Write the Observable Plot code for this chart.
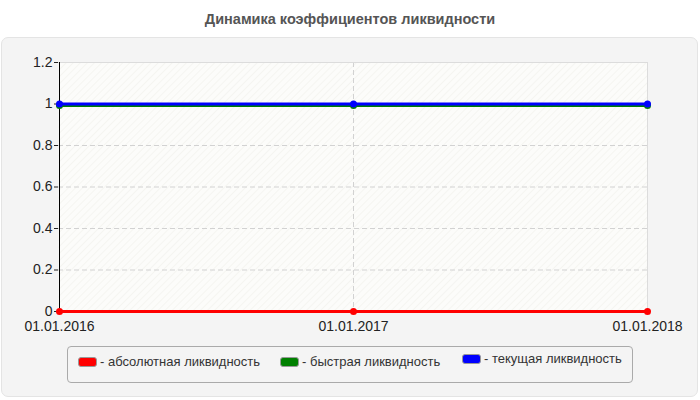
<!DOCTYPE html>
<html><head><meta charset="utf-8">
<script src="https://cdn.jsdelivr.net/npm/d3@7"></script>
<script src="https://cdn.jsdelivr.net/npm/@observablehq/plot@0.6"></script>
<style>
body{margin:0;width:700px;height:400px;position:relative;background:#fff;font-family:"Liberation Sans",Arial,sans-serif;overflow:hidden}
#title{position:absolute;top:11px;left:0;width:700px;text-align:center;font-weight:bold;font-size:14.5px;color:#555}
#panel{position:absolute;left:1px;top:37px;width:695px;height:358px;background:#f4f4f4;border:1px solid #e4e4e4;border-radius:7px}
#chart{position:absolute;left:0;top:0}
#legend{position:absolute;left:67px;top:346px;width:564px;height:35px;border:1px solid #aaa;border-radius:4px;background:#f4f4f4}
.item{position:absolute;font-size:13px;color:#333;white-space:nowrap;line-height:15px}
.sw{display:inline-block;width:17px;height:8px;border-radius:3px;border:1px solid #999;vertical-align:middle;margin-right:3px;position:relative;top:-1px}
</style></head>
<body>
<div id="title">Динамика коэффициентов ликвидности</div>
<div id="panel"></div>
<div id="chart"></div>
<div id="legend"></div>
<script>
const dates = ["01.01.2016", "01.01.2017", "01.01.2018"];
const absoluteLiquidity = [0, 0, 0];
const quickLiquidity = [0.993, 0.993, 0.993];
const currentLiquidity = [1, 1, 1];
const seriesNames = ["абсолютная ликвидность", "быстрая ликвидность", "текущая ликвидность"];
const seriesColors = ["#ff0000", "#008000", "#0000ff"];
const yTicks = [0, 0.2, 0.4, 0.6, 0.8, 1, 1.2];

const seriesValues = [absoluteLiquidity, quickLiquidity, currentLiquidity];
const data = [];
seriesValues.forEach((vals, s) => vals.forEach((v, i) => data.push({date: dates[i], value: v, series: seriesNames[s]})));

const colorScale = {domain: seriesNames, range: seriesColors};
const dashed = {stroke: "#d2d2d2", strokeOpacity: 1, strokeDasharray: "5,3"};

const chart = Plot.plot({
  width: 700,
  height: 340,
  marginTop: 62,
  marginBottom: 29,
  marginLeft: 58,
  marginRight: 53,
  style: {background: "transparent", fontFamily: "'Liberation Sans', Arial, sans-serif", fontSize: "14px", color: "#222"},
  x: {type: "point", domain: dates, padding: 0},
  y: {domain: [0, 1.2]},
  color: colorScale,
  marks: [
    Plot.frame({fill: "url(#hatch)", stroke: null}),
    Plot.gridY(yTicks.slice(1, -1), dashed),
    Plot.gridX(dates.slice(1, -1), dashed),
    Plot.ruleY([yTicks[yTicks.length - 1]], {stroke: "#dcdcdc"}),
    Plot.ruleX([dates[dates.length - 1]], {stroke: "#dcdcdc"}),
    Plot.ruleX([dates[0]], {stroke: "#000"}),
    Plot.axisY({ticks: yTicks, tickFormat: d => String(+d.toFixed(1)), tickSize: 4, tickPadding: 2, label: null, fill: "#222", fontSize: 14}),
    Plot.axisX({tickSize: 0, tickPadding: 10, label: null, fill: "#222", fontSize: 14}),
    Plot.line(data, {x: "date", y: "value", z: "series", stroke: "series", strokeWidth: 3}),
    Plot.dot(data, {x: "date", y: "value", fill: "series", r: 3.5})
  ]
});

const defs = d3.select(chart).insert("defs", ":first-child");
const pat = defs.append("pattern").attr("id", "hatch").attr("patternUnits", "userSpaceOnUse")
  .attr("width", 5).attr("height", 5).attr("patternTransform", "rotate(45)");
pat.append("rect").attr("width", 5).attr("height", 5).attr("fill", "#fcfcfa");
pat.append("line").attr("x1", 0).attr("y1", 0).attr("x2", 0).attr("y2", 5).attr("stroke", "#f3f3ee").attr("stroke-width", 1.5);
document.getElementById("chart").appendChild(chart);

const legendPos = [[10, 7], [212, 7], [394, 4]];
const legend = document.getElementById("legend");
seriesNames.forEach((n, i) => {
  const d = document.createElement("div");
  d.className = "item";
  d.style.left = legendPos[i][0] + "px";
  d.style.top = legendPos[i][1] + "px";
  d.innerHTML = `<span class="sw" style="background:${seriesColors[i]}"></span>- ${n}`;
  legend.appendChild(d);
});
</script>
</body></html>
